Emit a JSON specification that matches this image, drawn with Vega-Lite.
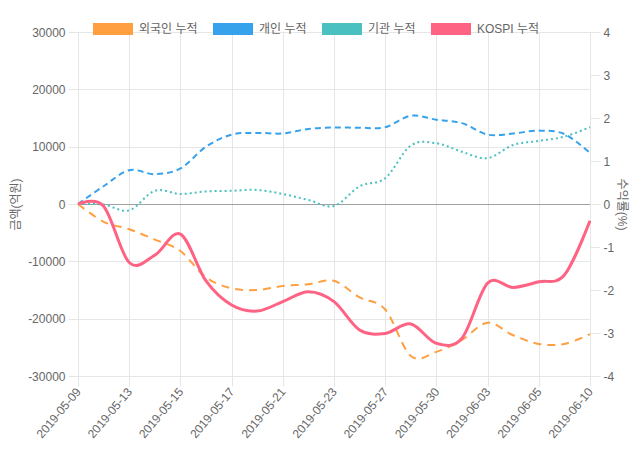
{
  "$schema": "https://vega.github.io/schema/vega-lite/v6.json",
  "width": 512,
  "height": 344,
  "autosize": {"type": "none"},
  "padding": {"left": 78, "top": 32, "right": 50, "bottom": 74},
  "config": {
    "font": "Liberation Sans, Noto Sans CJK KR",
    "view": {"stroke": null},
    "axis": {
      "labelColor": "#666666",
      "labelFontSize": 12,
      "titleColor": "#666666",
      "titleFontSize": 12,
      "titleFontWeight": "normal",
      "gridColor": "#e6e6e6",
      "domainColor": "#e6e6e6",
      "tickColor": "#e6e6e6",
      "tickSize": 10,
      "labelPadding": 3
    }
  },
  "data": {
    "values": [
      {"date": "2019-05-09", "series": "외국인 누적", "value": 0},
      {"date": "2019-05-10", "series": "외국인 누적", "value": -3100},
      {"date": "2019-05-13", "series": "외국인 누적", "value": -4400},
      {"date": "2019-05-14", "series": "외국인 누적", "value": -6200},
      {"date": "2019-05-15", "series": "외국인 누적", "value": -8200},
      {"date": "2019-05-16", "series": "외국인 누적", "value": -12800},
      {"date": "2019-05-17", "series": "외국인 누적", "value": -14700},
      {"date": "2019-05-20", "series": "외국인 누적", "value": -15000},
      {"date": "2019-05-21", "series": "외국인 누적", "value": -14300},
      {"date": "2019-05-22", "series": "외국인 누적", "value": -14000},
      {"date": "2019-05-23", "series": "외국인 누적", "value": -13400},
      {"date": "2019-05-24", "series": "외국인 누적", "value": -16300},
      {"date": "2019-05-27", "series": "외국인 누적", "value": -18400},
      {"date": "2019-05-28", "series": "외국인 누적", "value": -26500},
      {"date": "2019-05-30", "series": "외국인 누적", "value": -25800},
      {"date": "2019-05-31", "series": "외국인 누적", "value": -23700},
      {"date": "2019-06-03", "series": "외국인 누적", "value": -20700},
      {"date": "2019-06-04", "series": "외국인 누적", "value": -22900},
      {"date": "2019-06-05", "series": "외국인 누적", "value": -24400},
      {"date": "2019-06-07", "series": "외국인 누적", "value": -24400},
      {"date": "2019-06-10", "series": "외국인 누적", "value": -22700},
      {"date": "2019-05-09", "series": "개인 누적", "value": 0},
      {"date": "2019-05-10", "series": "개인 누적", "value": 3100},
      {"date": "2019-05-13", "series": "개인 누적", "value": 5900},
      {"date": "2019-05-14", "series": "개인 누적", "value": 5200},
      {"date": "2019-05-15", "series": "개인 누적", "value": 6200},
      {"date": "2019-05-16", "series": "개인 누적", "value": 10000},
      {"date": "2019-05-17", "series": "개인 누적", "value": 12100},
      {"date": "2019-05-20", "series": "개인 누적", "value": 12400},
      {"date": "2019-05-21", "series": "개인 누적", "value": 12300},
      {"date": "2019-05-22", "series": "개인 누적", "value": 13100},
      {"date": "2019-05-23", "series": "개인 누적", "value": 13350},
      {"date": "2019-05-24", "series": "개인 누적", "value": 13300},
      {"date": "2019-05-27", "series": "개인 누적", "value": 13400},
      {"date": "2019-05-28", "series": "개인 누적", "value": 15400},
      {"date": "2019-05-30", "series": "개인 누적", "value": 14700},
      {"date": "2019-05-31", "series": "개인 누적", "value": 14100},
      {"date": "2019-06-03", "series": "개인 누적", "value": 12100},
      {"date": "2019-06-04", "series": "개인 누적", "value": 12300},
      {"date": "2019-06-05", "series": "개인 누적", "value": 12800},
      {"date": "2019-06-07", "series": "개인 누적", "value": 12200},
      {"date": "2019-06-10", "series": "개인 누적", "value": 8900},
      {"date": "2019-05-09", "series": "기관 누적", "value": 0},
      {"date": "2019-05-10", "series": "기관 누적", "value": -100},
      {"date": "2019-05-13", "series": "기관 누적", "value": -1100},
      {"date": "2019-05-14", "series": "기관 누적", "value": 2300},
      {"date": "2019-05-15", "series": "기관 누적", "value": 1750},
      {"date": "2019-05-16", "series": "기관 누적", "value": 2200},
      {"date": "2019-05-17", "series": "기관 누적", "value": 2300},
      {"date": "2019-05-20", "series": "기관 누적", "value": 2450},
      {"date": "2019-05-21", "series": "기관 누적", "value": 1750},
      {"date": "2019-05-22", "series": "기관 누적", "value": 700},
      {"date": "2019-05-23", "series": "기관 누적", "value": -350},
      {"date": "2019-05-24", "series": "기관 누적", "value": 3100},
      {"date": "2019-05-27", "series": "기관 누적", "value": 4500},
      {"date": "2019-05-28", "series": "기관 누적", "value": 10200},
      {"date": "2019-05-30", "series": "기관 누적", "value": 10600},
      {"date": "2019-05-31", "series": "기관 누적", "value": 9100},
      {"date": "2019-06-03", "series": "기관 누적", "value": 8000},
      {"date": "2019-06-04", "series": "기관 누적", "value": 10300},
      {"date": "2019-06-05", "series": "기관 누적", "value": 11000},
      {"date": "2019-06-07", "series": "기관 누적", "value": 11750},
      {"date": "2019-06-10", "series": "기관 누적", "value": 13400},
      {"date": "2019-05-09", "series": "KOSPI 누적", "value": 0},
      {"date": "2019-05-10", "series": "KOSPI 누적", "value": -0.05},
      {"date": "2019-05-13", "series": "KOSPI 누적", "value": -1.36},
      {"date": "2019-05-14", "series": "KOSPI 누적", "value": -1.19},
      {"date": "2019-05-15", "series": "KOSPI 누적", "value": -0.7},
      {"date": "2019-05-16", "series": "KOSPI 누적", "value": -1.79},
      {"date": "2019-05-17", "series": "KOSPI 누적", "value": -2.35},
      {"date": "2019-05-20", "series": "KOSPI 누적", "value": -2.49},
      {"date": "2019-05-21", "series": "KOSPI 누적", "value": -2.27},
      {"date": "2019-05-22", "series": "KOSPI 누적", "value": -2.04},
      {"date": "2019-05-23", "series": "KOSPI 누적", "value": -2.27},
      {"date": "2019-05-24", "series": "KOSPI 누적", "value": -2.93},
      {"date": "2019-05-27", "series": "KOSPI 누적", "value": -3.01},
      {"date": "2019-05-28", "series": "KOSPI 누적", "value": -2.79},
      {"date": "2019-05-30", "series": "KOSPI 누적", "value": -3.24},
      {"date": "2019-05-31", "series": "KOSPI 누적", "value": -3.12},
      {"date": "2019-06-03", "series": "KOSPI 누적", "value": -1.84},
      {"date": "2019-06-04", "series": "KOSPI 누적", "value": -1.94},
      {"date": "2019-06-05", "series": "KOSPI 누적", "value": -1.81},
      {"date": "2019-06-07", "series": "KOSPI 누적", "value": -1.65},
      {"date": "2019-06-10", "series": "KOSPI 누적", "value": -0.39}
    ]
  },
  "layer": [
    {
      "transform": [{"filter": "datum.series !== 'KOSPI 누적'"}],
      "mark": {"type": "line", "interpolate": "cardinal", "strokeWidth": 2},
      "encoding": {
        "x": {
          "field": "date", "type": "ordinal",
          "scale": {"type": "point", "padding": 0},
          "axis": {
            "title": null,
            "values": ["2019-05-09", "2019-05-13", "2019-05-15", "2019-05-17", "2019-05-21", "2019-05-23", "2019-05-27", "2019-05-30", "2019-06-03", "2019-06-05", "2019-06-10"],
            "labelAngle": -50, "labelAlign": "right", "labelBaseline": "middle", "grid": true
          }
        },
        "y": {
          "field": "value", "type": "quantitative",
          "scale": {"domain": [-30000, 30000], "nice": false},
          "axis": {
            "orient": "left", "title": "금액(억원)", "titlePadding": 5,
            "values": [-30000, -20000, -10000, 0, 10000, 20000, 30000],
            "labelExpr": "'' + datum.value",
            "gridColor": {"condition": {"test": "datum.value === 0", "value": "#a0a0a0"}, "value": "#e6e6e6"}
          }
        },
        "color": {
          "field": "series", "type": "nominal",
          "scale": {"domain": ["외국인 누적", "개인 누적", "기관 누적", "KOSPI 누적"], "range": ["#ff9f40", "#36a2eb", "#4bc0c0", "#ff6384"]},
          "legend": {
            "orient": "none", "legendX": 15, "legendY": -23, "direction": "horizontal",
            "title": null, "symbolType": "M-1,-0.3H1V0.3H-1Z", "symbolSize": 1600,
            "labelFontSize": 12, "labelColor": "#666666", "labelOffset": 6, "columnPadding": 15,
            "encode": {"symbols": {"update": {"fill": {"scale": "color", "field": "value"}, "strokeWidth": {"value": 0}}}}
          }
        },
        "strokeDash": {
          "field": "series", "type": "nominal",
          "scale": {"domain": ["외국인 누적", "개인 누적", "기관 누적"], "range": [[8, 6], [6, 4], [2, 3]]},
          "legend": null
        }
      }
    },
    {
      "transform": [{"filter": "datum.series === 'KOSPI 누적'"}],
      "mark": {"type": "line", "interpolate": "cardinal", "strokeWidth": 3},
      "encoding": {
        "x": {
          "field": "date", "type": "ordinal",
          "scale": {"type": "point", "padding": 0},
          "axis": {
            "title": null,
            "values": ["2019-05-09", "2019-05-13", "2019-05-15", "2019-05-17", "2019-05-21", "2019-05-23", "2019-05-27", "2019-05-30", "2019-06-03", "2019-06-05", "2019-06-10"],
            "labelAngle": -50, "labelAlign": "right", "labelBaseline": "middle", "grid": true
          }
        },
        "y": {
          "field": "value", "type": "quantitative",
          "scale": {"domain": [-4, 4], "nice": false},
          "axis": {
            "orient": "right", "title": "수익률(%)", "titlePadding": 1,
            "values": [-4, -3, -2, -1, 0, 1, 2, 3, 4],
            "labelExpr": "'' + datum.value"
          }
        },
        "color": {
          "field": "series", "type": "nominal",
          "scale": {"domain": ["외국인 누적", "개인 누적", "기관 누적", "KOSPI 누적"], "range": ["#ff9f40", "#36a2eb", "#4bc0c0", "#ff6384"]}
        }
      }
    }
  ],
  "resolve": {"scale": {"y": "independent", "strokeDash": "independent"}}
}
